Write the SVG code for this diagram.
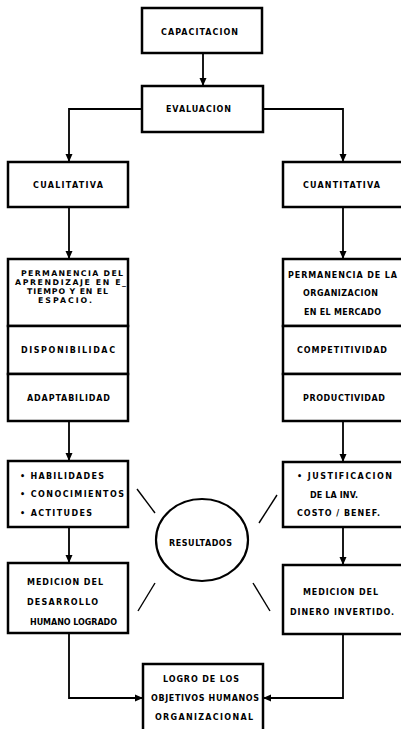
<svg xmlns="http://www.w3.org/2000/svg" width="401" height="729" viewBox="0 0 401 729">
<style>
.box{fill:#fff;stroke:#000;stroke-width:2.5}
.c{fill:none;stroke:#000;stroke-width:1.8}
.d{fill:none;stroke:#000;stroke-width:1.4}
text{font-family:"DejaVu Sans","Liberation Sans",sans-serif;font-weight:bold;font-size:8px;fill:#000}
.s{font-size:7.8px}
</style>
<defs>
<marker id="ah" markerUnits="userSpaceOnUse" markerWidth="8" markerHeight="8" refX="8" refY="4" orient="auto">
<path d="M0,0.5 L8,4 L0,7.5 Z" fill="#000"/>
</marker>
</defs>
<rect width="401" height="729" fill="#fff"/>
<g id="connectors">
<path class="c" d="M203,53 V86" marker-end="url(#ah)"/>
<path class="c" d="M142,109 H69 V162" marker-end="url(#ah)"/>
<path class="c" d="M263,109 H343 V162" marker-end="url(#ah)"/>
<path class="c" d="M69,207 V259" marker-end="url(#ah)"/>
<path class="c" d="M343,207 V259" marker-end="url(#ah)"/>
<path class="c" d="M69,421 V461" marker-end="url(#ah)"/>
<path class="c" d="M343,421 V462" marker-end="url(#ah)"/>
<path class="c" d="M69,527 V563" marker-end="url(#ah)"/>
<path class="c" d="M343,527 V565" marker-end="url(#ah)"/>
<path class="c" d="M69,633 V698 H143" marker-end="url(#ah)"/>
<path class="c" d="M343,634 V698 H263" marker-end="url(#ah)"/>
<line class="d" x1="137" y1="489" x2="155" y2="513"/>
<line class="d" x1="277" y1="495" x2="259" y2="523"/>
<line class="d" x1="155" y1="583" x2="138" y2="611"/>
<line class="d" x1="253" y1="583" x2="270" y2="611"/>
</g>
<g id="capacitacion">
<rect class="box" x="142" y="8" width="120" height="45"/>
<text x="161" y="35" textLength="77" lengthAdjust="spacing">CAPACITACION</text>
</g>
<g id="evaluacion">
<rect class="box" x="142" y="86" width="121" height="46"/>
<text x="166" y="112" textLength="65" lengthAdjust="spacing">EVALUACION</text>
</g>
<g id="cualitativa">
<rect class="box" x="8" y="162" width="120" height="45"/>
<text x="33" y="188" textLength="70" lengthAdjust="spacing">CUALITATIVA</text>
</g>
<g id="cuantitativa">
<rect class="box" x="283" y="162" width="130" height="45"/>
<text x="303" y="188" textLength="77" lengthAdjust="spacing">CUANTITATIVA</text>
</g>
<g id="permanencia-aprendizaje">
<rect class="box" x="8" y="259" width="120" height="67"/>
<text class="s" x="21" y="276" textLength="102" lengthAdjust="spacing">PERMANENCIA DEL</text>
<text class="s" x="15" y="285" textLength="111" lengthAdjust="spacing">APRENDIZAJE EN E_</text>
<text class="s" x="27" y="294" textLength="81" lengthAdjust="spacing">TIEMPO Y EN EL</text>
<text class="s" x="38" y="303" textLength="54" lengthAdjust="spacing">ESPACIO.</text>
</g>
<g id="disponibilidad">
<rect class="box" x="8" y="326" width="120" height="48"/>
<text x="21" y="353" textLength="94" lengthAdjust="spacing">DISPONIBILIDAC</text>
</g>
<g id="adaptabilidad">
<rect class="box" x="8" y="374" width="120" height="47"/>
<text x="27" y="401" textLength="83" lengthAdjust="spacing">ADAPTABILIDAD</text>
</g>
<g id="permanencia-organizacion">
<rect class="box" x="283" y="259" width="130" height="67"/>
<text x="288" y="278" textLength="109" lengthAdjust="spacing">PERMANENCIA DE LA</text>
<text x="303" y="296" textLength="75" lengthAdjust="spacing">ORGANIZACION</text>
<text x="304" y="315" textLength="77" lengthAdjust="spacing">EN EL MERCADO</text>
</g>
<g id="competitividad">
<rect class="box" x="283" y="326" width="130" height="48"/>
<text x="297" y="353" textLength="90" lengthAdjust="spacing">COMPETITIVIDAD</text>
</g>
<g id="productividad">
<rect class="box" x="283" y="374" width="130" height="47"/>
<text x="303" y="401" textLength="82" lengthAdjust="spacing">PRODUCTIVIDAD</text>
</g>
<g id="habilidades">
<rect class="box" x="8" y="461" width="120" height="66"/>
<text x="20" y="479" textLength="84" lengthAdjust="spacing">• HABILIDADES</text>
<text x="20" y="497" textLength="104" lengthAdjust="spacing">• CONOCIMIENTOS</text>
<text x="20" y="516" textLength="72" lengthAdjust="spacing">• ACTITUDES</text>
</g>
<g id="justificacion">
<rect class="box" x="283" y="462" width="130" height="65"/>
<text x="297" y="479" textLength="95" lengthAdjust="spacing">• JUSTIFICACION</text>
<text x="310" y="498" textLength="48" lengthAdjust="spacing">DE LA INV.</text>
<text x="297" y="516" textLength="83" lengthAdjust="spacing">COSTO / BENEF.</text>
</g>
<g id="resultados">
<ellipse cx="202" cy="540" rx="46" ry="41" fill="#fff" stroke="#000" stroke-width="2.2"/>
<text x="169" y="546" textLength="63" lengthAdjust="spacing">RESULTADOS</text>
</g>
<g id="medicion-humano">
<rect class="box" x="8" y="563" width="120" height="70"/>
<text x="27" y="585" textLength="76" lengthAdjust="spacing">MEDICION DEL</text>
<text x="27" y="605" textLength="71" lengthAdjust="spacing">DESARROLLO</text>
<text x="30" y="625" textLength="87" lengthAdjust="spacing">HUMANO LOGRADO</text>
</g>
<g id="medicion-dinero">
<rect class="box" x="283" y="565" width="130" height="69"/>
<text x="303" y="595" textLength="75" lengthAdjust="spacing">MEDICION DEL</text>
<text x="290" y="615" textLength="104" lengthAdjust="spacing">DINERO INVERTIDO.</text>
</g>
<g id="logro">
<rect class="box" x="143" y="664" width="120" height="80"/>
<text x="163" y="682" textLength="76" lengthAdjust="spacing">LOGRO DE LOS</text>
<text x="151" y="701" textLength="108" lengthAdjust="spacing">OBJETIVOS HUMANOS</text>
<text x="155" y="720" textLength="98" lengthAdjust="spacing">ORGANIZACIONAL</text>
</g>
</svg>
